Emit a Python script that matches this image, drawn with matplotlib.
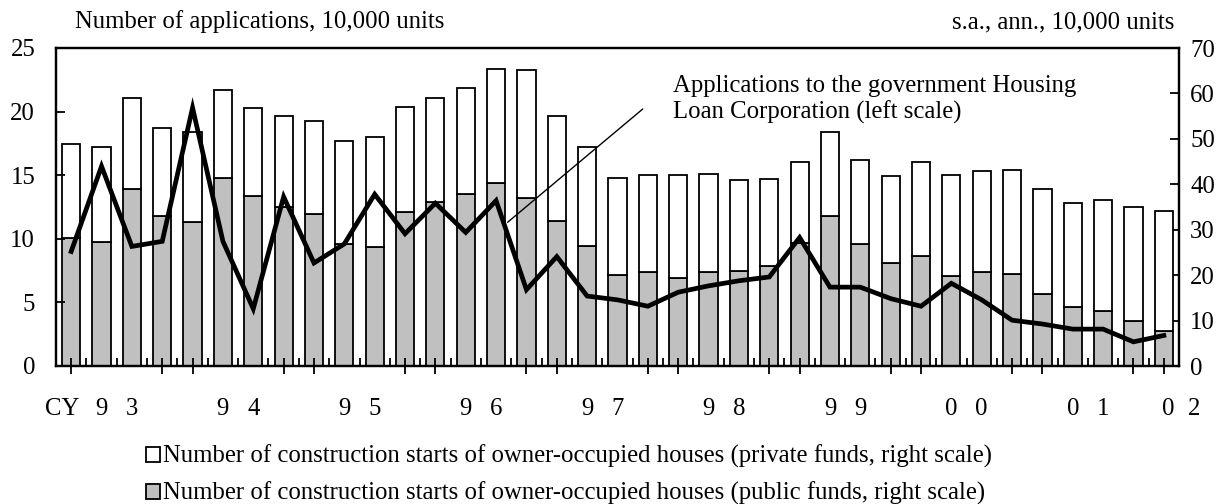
import matplotlib
matplotlib.use("Agg")
import matplotlib.pyplot as plt
from matplotlib.patches import Patch
from matplotlib.transforms import blended_transform_factory
import numpy as np

# ---- data (quarterly, CY1993 Q1 - CY2002 Q1) ----
years = ["9 3", "9 4", "9 5", "9 6", "9 7", "9 8", "9 9", "0 0", "0 1", "0 2"]
public_funds = [28.2, 27.4, 39.0, 33.0, 31.6, 41.4, 37.5, 35.1, 33.5, 26.8,
                26.2, 33.8, 36.0, 37.8, 40.2, 37.0, 32.0, 26.5, 20.0, 20.6,
                19.4, 20.6, 20.9, 22.0, 27.0, 33.1, 26.9, 22.6, 24.2, 19.9,
                20.6, 20.2, 15.8, 12.9, 12.2, 9.9, 7.6]
private_funds = [20.7, 20.8, 20.1, 19.3, 19.9, 19.4, 19.3, 20.0, 20.5, 22.7,
                 24.3, 23.3, 23.1, 23.5, 25.1, 28.1, 23.0, 21.7, 21.3, 21.5,
                 22.6, 21.7, 20.0, 19.2, 17.8, 18.4, 18.4, 19.2, 20.7, 22.2,
                 22.4, 22.9, 23.1, 23.0, 24.3, 25.1, 26.5]
applications = [9.0, 15.7, 9.4, 9.8, 20.3, 9.8, 4.5, 13.3, 8.1, 9.6,
                13.5, 10.4, 12.8, 10.5, 13.0, 6.0, 8.6, 5.5, 5.2, 4.7,
                5.8, 6.3, 6.7, 7.0, 10.1, 6.2, 6.2, 5.3, 4.7, 6.5,
                5.2, 3.6, 3.3, 2.9, 2.9, 1.9, 2.4]

label_private = "Number of construction starts of owner-occupied houses (private funds, right scale)"
label_public = "Number of construction starts of owner-occupied houses (public funds, right scale)"
annot_text = "Applications to the government Housing\nLoan Corporation (left scale)"

plt.rcParams['font.family'] = ['Liberation Serif', 'DejaVu Serif']
FS = 17.8

fig = plt.figure(figsize=(12.23, 5.04), dpi=100)
ax = fig.add_axes([56/1223, 1-366/504, (1179-56)/1223, (366-48)/504])
ax2 = ax.twinx()

n = len(applications)
x = np.arange(n)

# bars on right axis
ax2.bar(x, public_funds, width=0.6, color='#C0C0C0', edgecolor='black', linewidth=1.3, zorder=2)
ax2.bar(x, private_funds, width=0.6, bottom=public_funds, color='white',
        edgecolor='black', linewidth=1.3, zorder=2)
ax2.set_ylim(0, 70)
ax2.set_yticks(range(0, 71, 10))

# line on left axis drawn over bars
ax.set_zorder(ax2.get_zorder() + 1)
ax.patch.set_visible(False)
ax.plot(x, applications, color='black', linewidth=3.4, solid_joinstyle='miter', zorder=3)
ax.set_ylim(0, 25)
ax.set_yticks(range(0, 26, 5))
ax.set_xlim(-0.5, n - 0.5)

for a in (ax, ax2):
    for s in a.spines.values():
        s.set_linewidth(1.6)

ax.tick_params(axis='y', direction='in', length=6.5, width=1.3, labelsize=FS, pad=15)
ax2.tick_params(axis='y', direction='in', length=6.5, width=1.3, labelsize=FS, pad=8)

# x ticks: long ticks at Q1 and Q4, short ticks at bar boundaries
major = [i for i in range(n) if i % 4 in (0, 3)]
ax.set_xticks(major)
ax.set_xticklabels([])
ax.set_xticks(np.arange(0.5, n - 1, 1.0), minor=True)
ax.tick_params(axis='x', which='major', direction='inout', length=12, width=1.3)
ax.tick_params(axis='x', which='minor', direction='in', length=5.5, width=1.3)
ax2.tick_params(axis='x', which='both', bottom=False, top=False)

# x labels (digits placed under individual quarters)
tr = blended_transform_factory(ax.transData, fig.transFigure)
ylab = 1 - 409/504
ax.text(-0.3, ylab, "CY", transform=tr, ha='center', va='center', fontsize=FS)
for k, yl in enumerate(years):
    d1, d2 = yl.split(" ")
    if k < len(years) - 1:
        p1, p2 = 4*k + 1, 4*k + 2
    else:
        p1, p2 = 4*k + 0.15, 4*k + 1.0
    ax.text(p1, ylab, d1, transform=tr, ha='center', va='center', fontsize=FS)
    ax.text(p2, ylab, d2, transform=tr, ha='center', va='center', fontsize=FS)

# axis titles
fig.text(75/1223, 1-22/504, "Number of applications, 10,000 units", ha='left', va='center', fontsize=FS)
fig.text(1174/1223, 1-22/504, "s.a., ann., 10,000 units", ha='right', va='center', fontsize=FS)

# annotation
ax.text(19.82, 20.95, annot_text, fontsize=FS, ha='left', va='center', linespacing=1.25)
ax.annotate('', xy=(14.38, 11.3), xytext=(18.83, 20.2),
            arrowprops=dict(arrowstyle='-', color='black', linewidth=1.0,
                            shrinkA=0, shrinkB=0))

# legend
handles = [Patch(facecolor='white', edgecolor='black', linewidth=1.3),
           Patch(facecolor='#C0C0C0', edgecolor='black', linewidth=1.3)]
fig.legend(handles, [label_private, label_public], loc='upper left',
           bbox_to_anchor=(146/1223, 1-445/504), frameon=False, fontsize=FS,
           handlelength=0.55, handleheight=0.55, handletextpad=0.12,
           labelspacing=0.55, borderaxespad=0, borderpad=0)

fig.savefig("out.png", dpi=100)
